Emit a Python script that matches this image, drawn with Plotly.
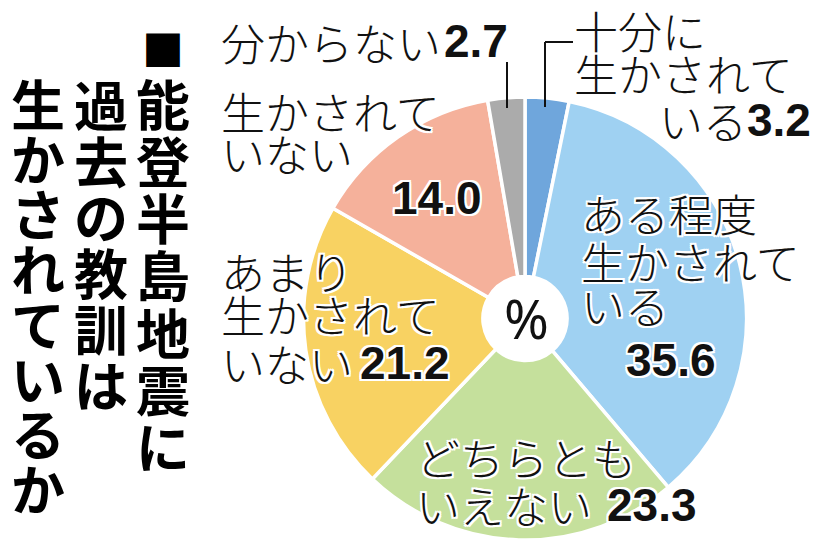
import plotly.graph_objects as go

# 能登半島地震に過去の教訓は生かされているか (%)
categories = [
    "十分に\n生かされて\nいる",
    "ある程度\n生かされて\nいる",
    "どちらとも\nいえない",
    "あまり\n生かされて\nいない",
    "生かされて\nいない",
    "分からない",
]
values = [3.2, 35.6, 23.3, 21.2, 14.0, 2.7]
colors = ["#6fa6dc", "#9fd1f2", "#c5e09c", "#f8d262", "#f5b19b", "#ababab"]
title_columns = ["■能登半島地震に", "過去の教訓は", "生かされているか"]
unit = "%"

W, H = 822, 548
OFF = 8  # page body margin


def px(x):
    return (x - OFF) / W


def py(y):
    return 1 - (y - OFF) / H


# pie geometry in screen pixels
CX, CY, R = 525, 318.5, 221.5

# label layout: (left x, centre y) per line, and centre of the value text
line_pos = [
    [(573, 30), (573, 73), (658, 120)],
    [(580, 213), (580, 261), (580, 305)],
    [(415, 457), (415, 505)],
    [(220, 271), (220, 314), (220, 363)],
    [(220, 111), (220, 153)],
    [(220, 42)],
]
value_pos = [(779, 120), (671, 360), (652, 505), (405, 363), (437, 198), (476, 41)]

fig = go.Figure()

fig.add_trace(go.Pie(
    labels=categories,
    values=values,
    sort=False,
    direction="clockwise",
    rotation=0,
    hole=0.19,
    marker=dict(colors=colors, line=dict(color="white", width=3.5)),
    textinfo="none",
    hoverinfo="skip",
    showlegend=False,
    domain=dict(x=[px(CX - R), px(CX + R)], y=[py(CY + R), py(CY - R)]),
))

halo = ", ".join(f"{dx}px {dy}px 0 #fff" for dx in (-2, 0, 2) for dy in (-2, 0, 2) if dx or dy)
label_font = dict(family="Noto Sans CJK JP", size=44, color="#111", weight=300, shadow=halo)
value_font = dict(family="Liberation Sans", size=46, color="#111", weight="bold", shadow=halo)

annotations = []
for cat, lines in zip(categories, line_pos):
    for txt, (lx, ly) in zip(cat.split("\n"), lines):
        annotations.append(dict(
            x=px(lx), y=py(ly), xref="paper", yref="paper", text=txt,
            showarrow=False, xanchor="left", yanchor="middle", font=label_font, borderpad=0,
        ))
for v, (vx, vy) in zip(values, value_pos):
    annotations.append(dict(
        x=px(vx), y=py(vy), xref="paper", yref="paper", text=f"{v:.1f}",
        showarrow=False, xanchor="center", yanchor="middle", font=value_font, borderpad=0,
    ))

# centre unit
annotations.append(dict(
    x=px(526), y=py(318), xref="paper", yref="paper", text=unit, showarrow=False,
    font=dict(family="Noto Sans", size=54, color="#111"),
))

# vertical title, columns read right to left
col_x = [163, 101, 38]
col_start = [47, 103, 102]
col_pitch = [57.3, 56.2, 55.1]
for c, (col, cx, y0, step) in enumerate(zip(title_columns, col_x, col_start, col_pitch)):
    y = y0
    for i, ch in enumerate(col):
        if ch == "■":
            size, nxt = 42, 102
        else:
            size, nxt = 54, y + step
        annotations.append(dict(
            x=px(cx), y=py(y), xref="paper", yref="paper", text=ch,
            showarrow=False, xanchor="center", yanchor="middle",
            font=dict(family="Noto Sans CJK JP", size=size, color="#000", weight="bold"),
        ))
        y = nxt

# leader lines
leaders = [
    ((507, 62), (507, 108)),
    ((545, 107), (545, 42)),
    ((545, 42), (573, 42)),
]
shapes = [
    dict(type="line", xref="paper", yref="paper", x0=px(a[0]), y0=py(a[1]), x1=px(b[0]), y1=py(b[1]),
         line=dict(color="#111", width=2))
    for a, b in leaders
]

fig.update_layout(
    width=W, height=H,
    margin=dict(l=0, r=0, t=0, b=0),
    paper_bgcolor="white",
    plot_bgcolor="white",
    annotations=annotations,
    shapes=shapes,
)

fig.write_html("out.html")
